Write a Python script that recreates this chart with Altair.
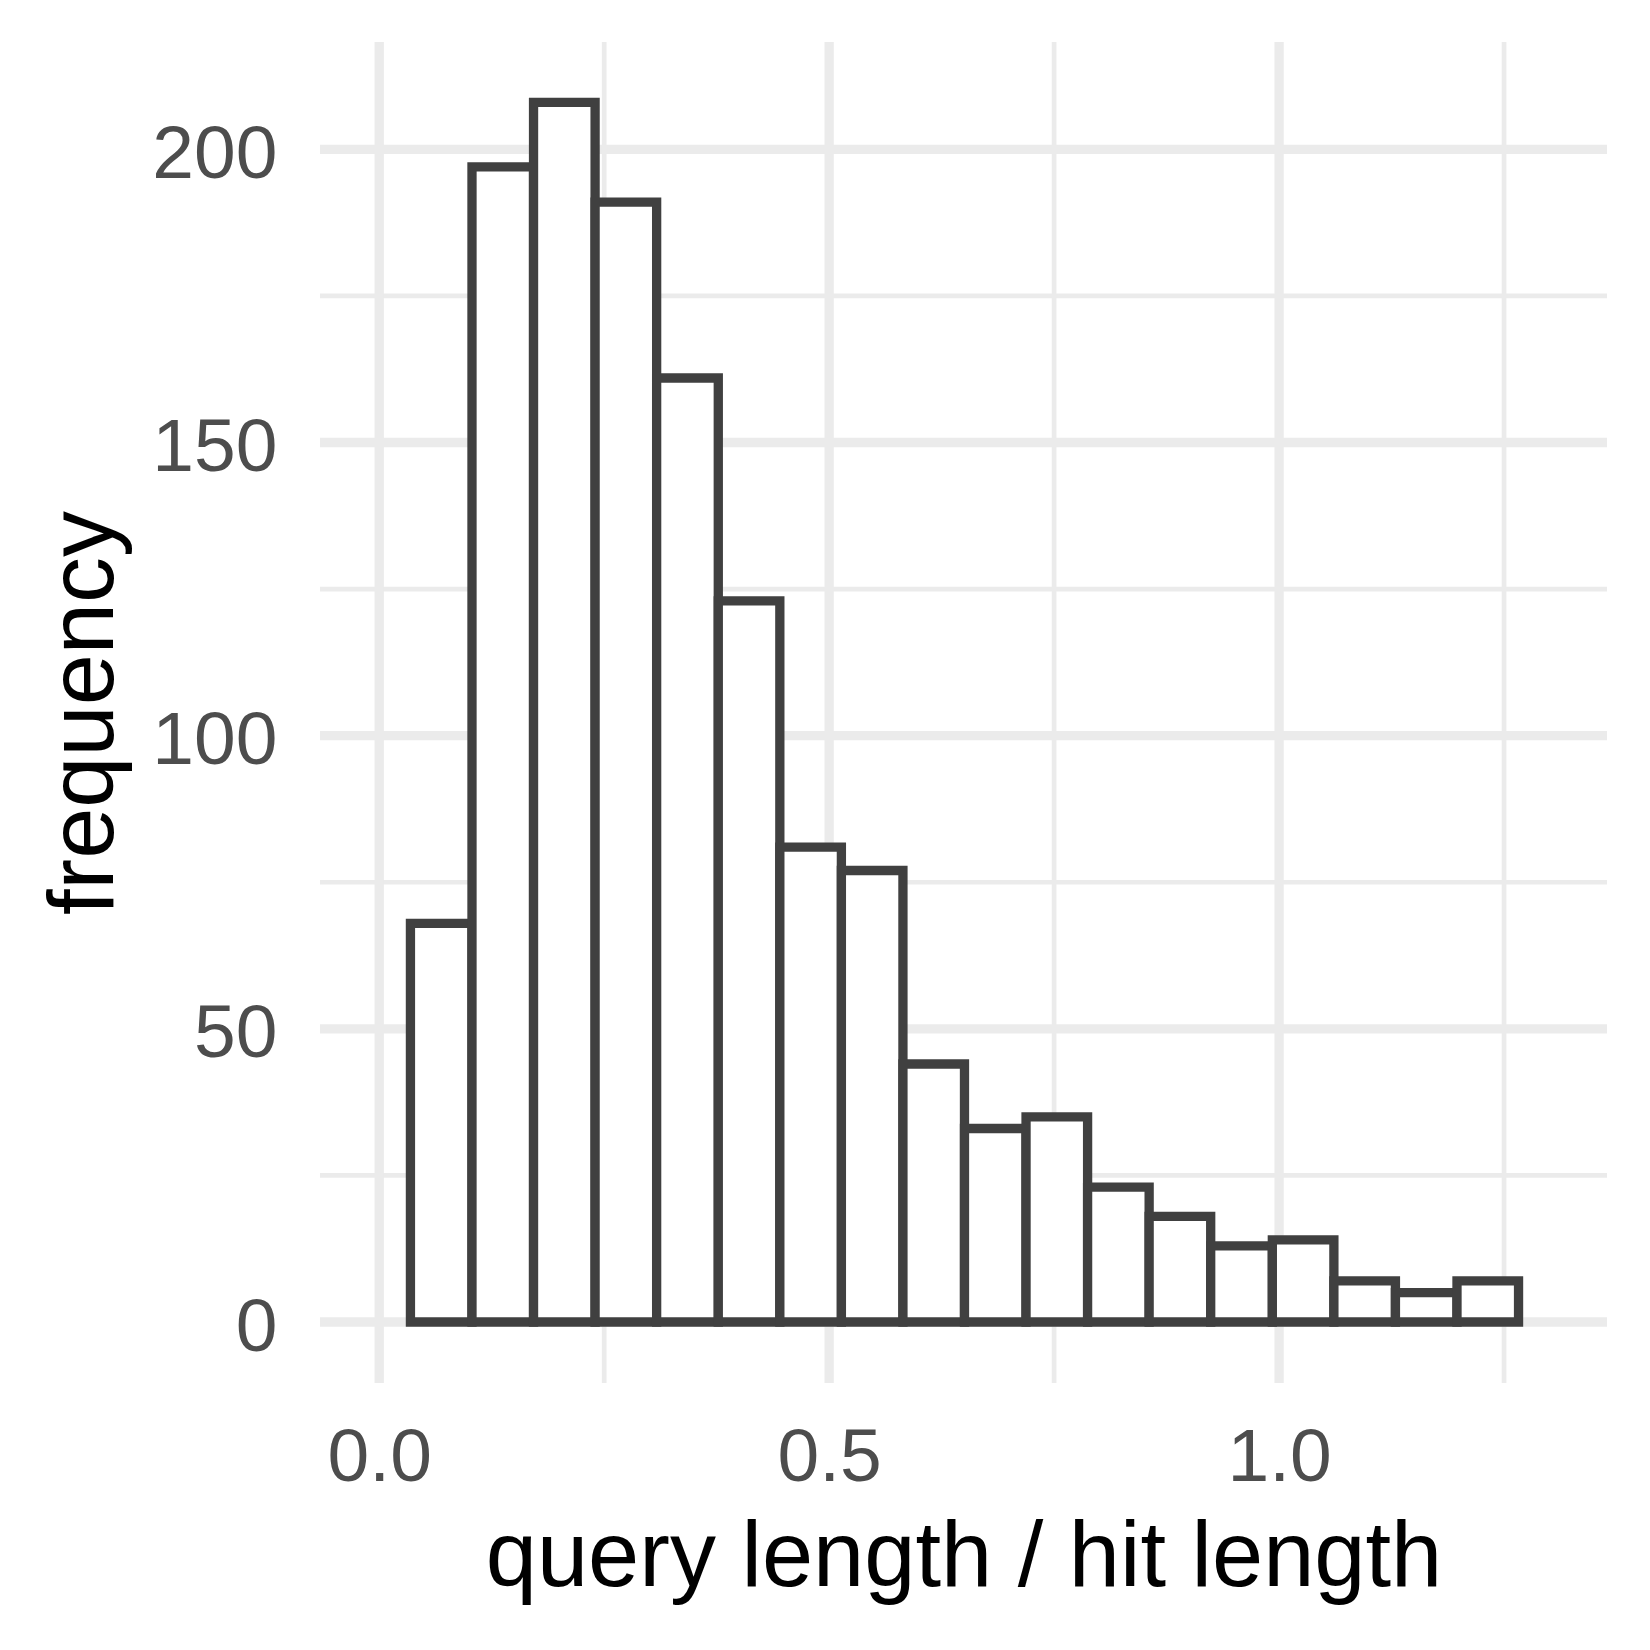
import altair as alt
import pandas as pd

# Histogram bins
bin_start = [0.0347, 0.1031, 0.1715, 0.2399, 0.3083, 0.3768, 0.4452, 0.5136, 0.5820,
             0.6504, 0.7188, 0.7872, 0.8556, 0.9240, 0.9925, 1.0609, 1.1293, 1.1977]
bin_end = [0.1031, 0.1715, 0.2399, 0.3083, 0.3768, 0.4452, 0.5136, 0.5820, 0.6504,
           0.7188, 0.7872, 0.8556, 0.9240, 0.9925, 1.0609, 1.1293, 1.1977, 1.2661]
counts = [68, 197, 208, 191, 161, 123, 81, 77, 44, 33, 35, 23, 18, 13, 14, 7, 5, 7]

x_major = [0.0, 0.5, 1.0]
x_minor = [0.25, 0.75, 1.25]
y_major = [0, 50, 100, 150, 200]
y_minor = [25, 75, 125, 175]

FONT = "Liberation Sans"
GRID = "#EBEBEB"

bars_df = pd.DataFrame({"start": bin_start, "end": bin_end, "count": counts})
xmaj_df = pd.DataFrame({"v": x_major})
xmin_df = pd.DataFrame({"v": x_minor})
ymaj_df = pd.DataFrame({"v": y_major})
ymin_df = pd.DataFrame({"v": y_minor})

xscale = alt.Scale(domain=[-0.0658, 1.3644], nice=False, zero=False)
yscale = alt.Scale(domain=[-10.4, 218.3], nice=False, zero=False)

x_axis = alt.Axis(values=x_major, format=".1f", title="query length / hit length",
                  grid=False, domain=False, ticks=False, tickSize=0,
                  labelFont=FONT, labelFontSize=75, labelColor="#4D4D4D",
                  labelBaseline="alphabetic", labelPadding=97,
                  labelFlush=False, labelOverlap=False,
                  titleFont=FONT, titleFontSize=92, titleColor="black",
                  titleFontWeight="normal", titleBaseline="alphabetic",
                  titleY=202)
y_axis = alt.Axis(values=y_major, format="d", title="frequency",
                  grid=False, domain=False, ticks=False, tickSize=0,
                  labelFont=FONT, labelFontSize=75, labelColor="#4D4D4D",
                  labelBaseline="alphabetic", labelOffset=28,
                  labelPadding=43, labelAlign="right",
                  labelFlush=False, labelOverlap=False,
                  titleFont=FONT, titleFontSize=92, titleColor="black",
                  titleFontWeight="normal", titleBaseline="alphabetic",
                  titleAngle=270, titleAlign="center",
                  titleX=-208, titleY=670.5)

xmin_rules = alt.Chart(xmin_df).mark_rule(color=GRID, strokeWidth=4.7).encode(
    x=alt.X("v:Q", scale=xscale, axis=x_axis))
ymin_rules = alt.Chart(ymin_df).mark_rule(color=GRID, strokeWidth=4.7).encode(
    y=alt.Y("v:Q", scale=yscale, axis=y_axis))
xmaj_rules = alt.Chart(xmaj_df).mark_rule(color=GRID, strokeWidth=9.3).encode(
    x=alt.X("v:Q", scale=xscale, axis=x_axis))
ymaj_rules = alt.Chart(ymaj_df).mark_rule(color=GRID, strokeWidth=9.3).encode(
    y=alt.Y("v:Q", scale=yscale, axis=y_axis))

bars = alt.Chart(bars_df).mark_rect(
    fill="white", stroke="#404040", strokeWidth=9.3
).encode(
    x=alt.X("start:Q", scale=xscale, axis=x_axis),
    x2="end:Q",
    y=alt.Y("count:Q", scale=yscale, axis=y_axis),
    y2=alt.datum(0),
)

chart = alt.layer(xmin_rules, ymin_rules, xmaj_rules, ymaj_rules, bars).properties(
    width=1287, height=1341,
    padding={"left": 312, "top": 34, "right": 35, "bottom": 259},
    autosize=alt.AutoSizeParams(type="none"),
    background="white",
).configure_view(stroke=None)

chart.save("out.html", embed_options={"renderer": "svg", "actions": False})
